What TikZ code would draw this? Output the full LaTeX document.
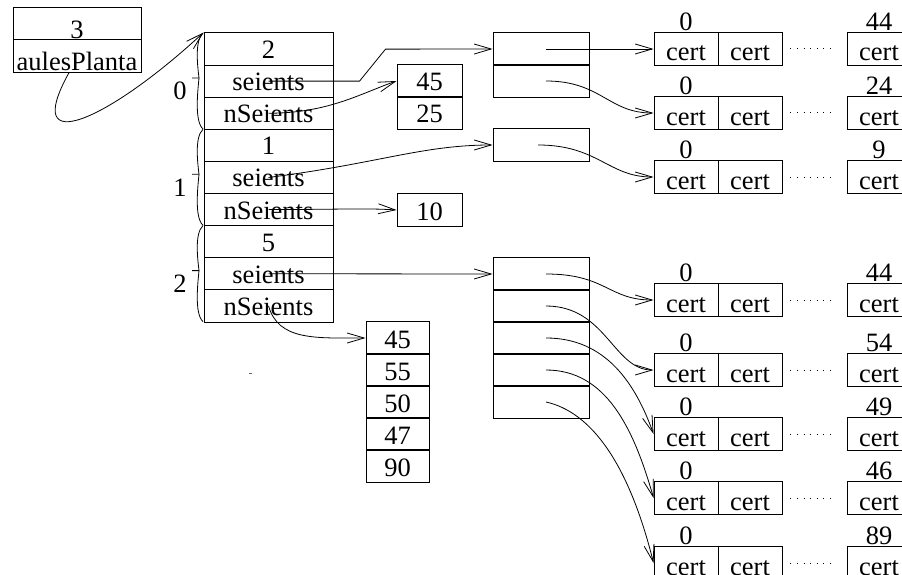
\documentclass[tikz,border=0pt]{standalone}
\usepackage{fontspec}
\setmainfont{Liberation Serif}
\usepackage{tikz}
\usetikzlibrary{arrows.meta,positioning,calc}
\tikzset{
  cell/.style={draw, line width=0.9pt, inner sep=0pt, minimum height=32.2pt, text height=20pt, text depth=0pt},
  fld/.style={cell, minimum width=129pt, text height=19pt},
  val/.style={cell, minimum width=64pt},
  crt/.style={val, text height=24pt},
  slot/.style={cell, minimum width=96pt},
  ptr/.style={-{Straight Barb[length=17pt,width=10pt]}, line width=0.8pt},
  brc/.style={line width=0.8pt},
  idx/.style={inner sep=0pt},
  elide/.style={line width=1pt, dash pattern=on 1pt off 5.6pt},
}

\begin{document}
\begin{tikzpicture}[x=1pt, y=-1pt, font=\fontsize{26.5}{30}\selectfont]
    \useasboundingbox (0,0) rectangle (902,575);
    \clip (0,0) rectangle (902,575);
    \node[cell, minimum width=128pt, minimum height=32.5pt, text height=30pt] (ap1) at (77,23.5) {3};
    \node[cell, minimum width=128pt, minimum height=32.5pt, text height=30pt] (ap2) at (77,56) {aulesPlanta};
    \foreach \i/\n in {0/2, 1/1, 2/5} {
      \pgfmathsetmacro\t{33+96.3*\i}
      \node[fld] (num\i) at (268.5,{33+32.1*(3*\i+0.5)}) {\n};
      \node[fld] (seients\i) at (268.5,{33+32.1*(3*\i+1.5)}) {seients};
      \node[fld] (nseients\i) at (268.5,{33+32.1*(3*\i+2.5)}) {nSeients};
      \draw[brc] (203,\t) .. controls (194,{\t+8}) and (198,{\t+36}) .. (199,{\t+45}) -- (192,{\t+45});
      \draw[brc] (199,{\t+45}) .. controls (198,{\t+56}) and (194,{\t+88}) .. (203,{\t+96});
      \node[idx] (idx\i) at (180,{\t+58}) {\i};
    }
    \node[slot] (ptr0a) at (541,49) {};
    \node[slot] (ptr0b) at (541,81) {};
    \node[slot] (ptr1) at (541,145) {};
    \foreach \k/\y in {a/274, b/306, c/338, d/370, e/402}
      \node[slot] (ptr2\k) at (541,\y) {};
    \node[val, minimum width=65pt] (v45) at (429.5,81) {45};
    \node[val, minimum width=65pt] (v25) at (429.5,113) {25};
    \node[val, minimum width=65pt] (v10) at (429.5,210) {10};
    \foreach \k/\n in {0/45, 1/55, 2/50, 3/47, 4/90}
      \node[val, minimum width=63pt] (arr\k) at (397.5,{338+32*\k}) {\n};
    \foreach \r/\y/\n in {1/49/44, 2/113/24, 3/177/9, 4/300/44,
                          5/370/54, 6/434/49, 7/498/46, 8/563/89} {
      \node[crt] (c\r-a) at (686,\y) {cert};
      \node[crt] (c\r-b) at (750,\y) {cert};
      \node[crt] (c\r-z) at (879,\y) {cert};
      \node[idx] (f\r) at (686,{\y-27.5}) {0};
      \node[idx] (e\r) at (879,{\y-27.5}) {\n};
      \draw[elide] ([xshift=8pt]c\r-b.east) -- ([xshift=-10pt]c\r-z.west);
    }
    \draw[ptr] ([xshift=-8pt]ap2.south) .. controls +(-49,88) and +(-94,87) .. (num0.north west);
    \draw[ptr] (seients0.center) -- ++(91,0) -- ++(26,-32) -- (ptr0a.west);
    \draw[ptr] (nseients0.center) .. controls +(60,0) and +(-35,12) .. (v45.west);
    \draw[ptr] (seients1.center) .. controls +(110,-14) and +(-70,0) .. (ptr1.west);
    \draw[ptr] (nseients1.center) .. controls +(70,0) and +(-30,-2) .. (v10.west);
    \draw[ptr] (seients2.center) -- (ptr2a.west);
    \draw[ptr] (nseients2.center) .. controls +(10,35) and +(-50,0) .. (arr0.west);
    \draw[ptr] ([xshift=5pt]ptr0a.center) -- (c1-a.west);
    \draw[ptr] ([xshift=5pt]ptr0b.center) .. controls +(55,0) and +(-45,0) .. (c2-a.west);
    \draw[ptr] ([xshift=-3pt]ptr1.center) .. controls +(60,0) and +(-45,0) .. (c3-a.west);
    \draw[ptr] ([xshift=5pt]ptr2a.center) .. controls +(60,0) and +(-45,0) .. (c4-a.west);
    \draw[ptr] ([xshift=5pt]ptr2b.center) .. controls +(60,0) and +(-40,0) .. (c5-a.west);
    \draw[ptr] ([xshift=5pt]ptr2c.center) .. controls +(60,0) and +(-18,-50) .. (c6-a.west);
    \draw[ptr] ([xshift=5pt]ptr2d.center) .. controls +(60,0) and +(-20,-70) .. (c7-a.west);
    \draw[ptr] ([xshift=5pt]ptr2e.center) .. controls +(45,10) and +(-25,-100) .. (c8-a.west);
    \fill[black!60] (249,372.5) rectangle (252,374);
\end{tikzpicture}
\end{document}
